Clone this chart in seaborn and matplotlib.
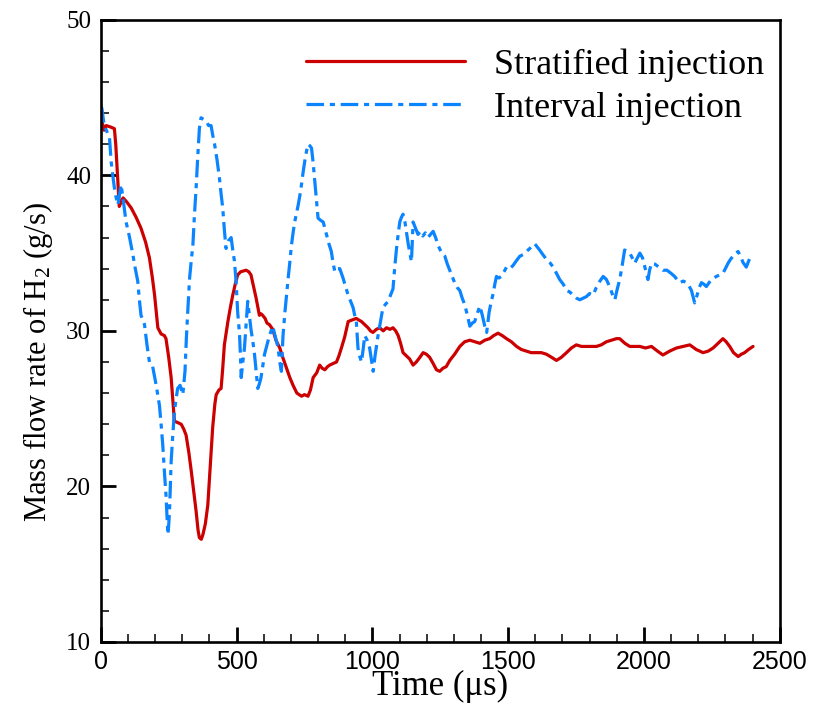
import numpy as np
import pandas as pd
import matplotlib
matplotlib.use('Agg')
import matplotlib.pyplot as plt
from matplotlib.ticker import MultipleLocator
import seaborn as sns

# Данные (время в мкс, расход H2 в г/с)
t_strat = [0, 4, 12, 20, 37, 50, 55, 62, 68, 75, 82, 95, 112, 130, 148, 165, 179, 190, 198, 210,
           222, 234, 240, 250, 259, 271, 284, 296, 305, 314, 324, 333, 342, 351, 358, 363, 370, 376,
           385, 394, 403, 412, 420, 425, 435, 443, 449, 455, 468, 477, 486, 495, 504, 515, 535, 545,
           553, 562, 572, 584, 590, 596, 605, 612, 621, 633, 645, 659, 670, 684, 696, 708, 722, 739,
           750, 763, 772, 782, 795, 806, 815, 825, 835, 843, 855, 868, 877, 886, 898, 911, 925, 941,
           950, 960, 972, 984, 993, 1002, 1015, 1027, 1040, 1052, 1065, 1076, 1086, 1095, 1104, 1113,
           1125, 1137, 1150, 1162, 1175, 1187, 1199, 1211, 1224, 1236, 1248, 1260, 1272, 1285, 1303,
           1322, 1340, 1359, 1377, 1396, 1414, 1432, 1447, 1463, 1478, 1494, 1512, 1531, 1549, 1567,
           1585, 1604, 1622, 1641, 1660, 1678, 1696, 1715, 1733, 1751, 1770, 1788, 1806, 1825, 1843,
           1862, 1880, 1899, 1911, 1930, 1948, 1966, 1985, 2006, 2028, 2050, 2070, 2095, 2120, 2145,
           2169, 2193, 2218, 2237, 2255, 2273, 2291, 2303, 2316, 2330, 2347, 2359, 2371, 2385, 2402]
m_strat = [43.6, 43.5, 42.9, 43.2, 43.1, 43.0, 42.0, 39.8, 38.0, 38.3, 38.55, 38.3, 37.9, 37.3, 36.6,
           35.7, 34.7, 33.4, 32.3, 30.2, 29.8, 29.7, 29.5, 28.3, 27.0, 24.2, 24.1, 24.0, 23.7, 23.3,
           22.2, 21.0, 19.7, 18.4, 17.2, 16.7, 16.6, 16.9, 17.6, 18.8, 21.3, 23.8, 25.3, 25.9, 26.2,
           26.3, 27.6, 29.1, 30.6, 31.5, 32.3, 33.0, 33.6, 33.8, 33.9, 33.8, 33.6, 32.9, 32.1, 31.0,
           31.1, 31.0, 30.8, 30.5, 30.4, 30.1, 29.4, 28.9, 28.3, 27.6, 27.0, 26.5, 26.0, 25.8, 25.9,
           25.8, 26.2, 27.0, 27.3, 27.8, 27.6, 27.5, 27.7, 27.8, 27.9, 28.0, 28.4, 28.9, 29.6, 30.6,
           30.7, 30.8, 30.7, 30.6, 30.4, 30.2, 30.0, 29.9, 30.1, 30.2, 30.0, 30.2, 30.1, 30.2, 30.0,
           29.7, 29.2, 28.6, 28.4, 28.2, 27.8, 28.0, 28.3, 28.6, 28.5, 28.3, 27.9, 27.5, 27.4, 27.6,
           27.7, 28.1, 28.5, 29.0, 29.3, 29.4, 29.3, 29.2, 29.4, 29.5, 29.7, 29.85, 29.7, 29.5, 29.3,
           29.0, 28.8, 28.7, 28.6, 28.6, 28.6, 28.5, 28.3, 28.1, 28.3, 28.6, 28.9, 29.1, 29.0, 29.0,
           29.0, 29.0, 29.1, 29.3, 29.4, 29.5, 29.5, 29.2, 29.0, 29.0, 29.0, 28.9, 29.0, 28.7, 28.45,
           28.7, 28.9, 29.0, 29.1, 28.8, 28.6, 28.7, 28.9, 29.2, 29.5, 29.3, 29.0, 28.6, 28.35, 28.5,
           28.6, 28.8, 29.0]

t_inter = [0, 4, 10, 18, 25, 32, 38, 44, 50, 56, 63, 69, 75, 84, 93, 106, 118, 127, 136, 142, 148,
           155, 161, 170, 179, 191, 204, 216, 222, 228, 234, 240, 244, 247, 250, 253, 256, 259, 265,
           271, 277, 283, 292, 302, 310, 315, 320, 327, 333, 339, 345, 351, 357, 363, 369, 378, 388,
           397, 406, 412, 419, 428, 437, 443, 449, 455, 461, 470, 480, 486, 492, 498, 504, 508, 511,
           514, 517, 523, 529, 535, 541, 547, 553, 560, 566, 572, 578, 584, 590, 597, 603, 612, 621,
           633, 643, 653, 659, 665, 671, 678, 684, 690, 696, 702, 708, 714, 720, 727, 733, 739, 745,
           751, 757, 763, 770, 776, 782, 788, 794, 800, 810, 819, 825, 831, 840, 849, 855, 862, 871,
           880, 886, 892, 902, 911, 920, 929, 935, 941, 944, 947, 953, 960, 966, 972, 981, 990, 996,
           1003, 1010, 1020, 1030, 1039, 1048, 1058, 1067, 1076, 1082, 1089, 1095, 1101, 1107, 1113,
           1120, 1126, 1132, 1138, 1144, 1150, 1159, 1168, 1177, 1186, 1195, 1205, 1214, 1224, 1233,
           1242, 1250, 1260, 1267, 1276, 1285, 1294, 1303, 1312, 1322, 1331, 1340, 1350, 1359, 1368,
           1377, 1386, 1396, 1405, 1414, 1421, 1430, 1438, 1445, 1451, 1457, 1466, 1475, 1485, 1494,
           1506, 1518, 1530, 1543, 1555, 1567, 1580, 1590, 1598, 1607, 1616, 1628, 1641, 1653, 1666,
           1678, 1690, 1703, 1715, 1727, 1739, 1752, 1764, 1776, 1788, 1800, 1813, 1825, 1838, 1850,
           1862, 1875, 1887, 1893, 1902, 1911, 1920, 1929, 1938, 1948, 1957, 1966, 1976, 1985, 1995,
           2005, 2015, 2021, 2028, 2040, 2055, 2070, 2085, 2100, 2113, 2122, 2132, 2145, 2157, 2166,
           2175, 2181, 2187, 2196, 2204, 2212, 2221, 2230, 2240, 2249, 2258, 2267, 2279, 2291, 2300,
           2310, 2319, 2328, 2338, 2347, 2356, 2365, 2377, 2386, 2396]
m_inter = [44.5, 44.3, 43.5, 43.0, 42.7, 42.4, 40.9, 40.0, 39.2, 38.6, 38.1, 38.8, 39.4, 38.2, 37.0,
           36.0, 34.9, 34.0, 33.2, 32.0, 31.0, 30.7, 30.4, 29.1, 28.0, 27.7, 26.5, 25.2, 24.0, 22.7,
           21.0, 19.45, 18.0, 16.9, 17.5, 18.4, 20.0, 21.6, 23.3, 24.8, 25.6, 26.3, 26.5, 25.9, 27.4,
           29.5, 31.2, 33.4, 34.5, 35.5, 37.5, 39.2, 41.2, 43.0, 43.7, 43.6, 43.5, 43.2, 43.2, 42.6,
           42.0, 41.0, 39.8, 38.8, 37.9, 36.5, 35.3, 35.8, 36.0, 35.2, 34.5, 33.2, 31.2, 30.4, 29.7,
           28.5, 27.0, 28.0, 28.9, 30.4, 31.9, 31.0, 30.1, 29.3, 28.5, 27.4, 26.3, 26.6, 27.0, 27.8,
           28.5, 29.1, 29.7, 30.3, 29.6, 28.9, 28.0, 27.4, 29.7, 31.2, 32.3, 33.4, 34.4, 35.5, 36.3,
           37.0, 37.5, 38.1, 38.7, 39.4, 40.2, 40.9, 41.5, 42.0, 41.9, 41.75, 40.8, 39.6, 38.4, 37.25,
           37.1, 37.0, 36.6, 36.2, 35.6, 35.1, 34.4, 33.8, 34.0, 34.0, 33.7, 33.4, 32.8, 32.3, 31.9,
           31.5, 31.0, 30.6, 29.8, 28.9, 28.4, 28.0, 28.8, 29.7, 29.4, 28.9, 28.2, 27.4, 28.4, 29.6,
           30.6, 31.5, 31.7, 31.9, 32.3, 32.7, 34.0, 35.3, 36.2, 37.0, 37.3, 37.5, 37.0, 36.3, 35.6,
           35.0, 34.45, 37.0, 36.6, 36.2, 36.4, 36.1, 36.3, 36.0, 36.2, 36.4, 36.0, 35.5, 35.2, 34.9,
           34.8, 34.3, 33.9, 33.5, 33.1, 32.8, 32.6, 32.1, 31.7, 31.0, 30.3, 30.5, 30.6, 31.1, 31.6,
           31.0, 30.3, 29.9, 31.2, 31.9, 32.4, 33.0, 33.5, 33.4, 33.5, 33.8, 34.1, 34.0, 34.2, 34.5,
           34.8, 34.9, 35.1, 35.3, 35.5, 35.6, 35.4, 35.2, 34.9, 34.6, 34.4, 34.1, 33.7, 33.3, 33.0,
           32.6, 32.5, 32.3, 32.1, 32.0, 32.1, 32.2, 32.4, 32.3, 32.8, 33.2, 33.5, 33.3, 32.8, 32.2,
           32.0, 32.7, 33.3, 34.2, 35.2, 35.1, 35.0, 34.7, 34.35, 34.7, 35.0, 34.7, 34.0, 33.3, 33.9,
           34.35, 34.3, 34.1, 33.9, 33.9, 33.7, 33.5, 33.3, 33.1, 33.2, 33.1, 32.9, 32.6, 32.2, 31.8,
           32.3, 32.8, 33.1, 33.0, 32.85, 33.1, 33.3, 33.4, 33.5, 33.6, 33.7, 34.0, 34.35, 34.6, 34.8,
           35.0, 35.1, 34.8, 34.4, 34.1, 34.5, 34.9]

labels = ['Stratified injection', 'Interval injection']

sns.set_theme(style='ticks')
plt.rcParams['font.family'] = ['Liberation Serif', 'DejaVu Serif']
plt.rcParams['mathtext.fontset'] = 'custom'
plt.rcParams['mathtext.rm'] = 'Liberation Serif'
for k in ['text.color', 'axes.labelcolor', 'xtick.color', 'ytick.color', 'xtick.labelcolor',
          'ytick.labelcolor']:
    plt.rcParams[k] = 'black'

fig = plt.figure(figsize=(8.13, 7.07), dpi=100)
ax = fig.add_axes([0.124, 0.092, 0.835, 0.88])

sns.lineplot(x=t_strat, y=m_strat, ax=ax, color='#cc0000', lw=2.3,
             estimator=None, label=labels[0])
sns.lineplot(x=t_inter, y=m_inter, ax=ax, color='#0a84ff', lw=2.3,
             estimator=None, label=labels[1])
ax.lines[1].set_dashes([5.5, 1.8, 1.6, 1.8])

ax.set_xlim(0, 2500)
ax.set_ylim(10, 50)
ax.xaxis.set_major_locator(MultipleLocator(500))
ax.xaxis.set_minor_locator(MultipleLocator(100))
ax.yaxis.set_major_locator(MultipleLocator(10))
ax.yaxis.set_minor_locator(MultipleLocator(2))

for s in ax.spines.values():
    s.set_linewidth(1.9)
    s.set_color('black')
ax.tick_params(which='major', direction='in', length=10.5, width=2, color='black', pad=6)
ax.tick_params(which='minor', direction='in', length=6, width=1.1, color='black')
ax.tick_params(axis='y', labelsize=18, pad=7)
for lab in ax.get_xticklabels():
    lab.set_family(['Liberation Sans Narrow', 'Liberation Sans', 'DejaVu Sans'])
    lab.set_fontsize(18)

ax.set_xlabel('Time (μs)', fontsize=25)
ax.set_ylabel('Mass flow rate of H$\\mathregular{_2}$ (g/s)', fontsize=22)
ax.xaxis.set_label_coords(0.5, -0.045)
ax.yaxis.set_label_coords(-0.068, 0.45)

leg = ax.legend(loc='upper right', bbox_to_anchor=(1.014, 0.995), frameon=False, fontsize=26,
                handlelength=4.4, handletextpad=0.8, labelspacing=0.27, borderaxespad=0.3)
for h in leg.get_lines():
    h.set_linewidth(2.3)

fig.savefig('out.png', dpi=100)
